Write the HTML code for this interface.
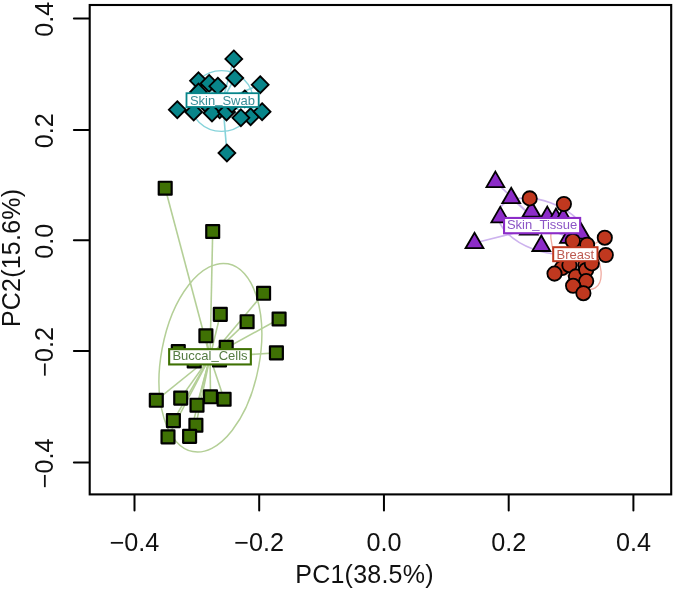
<!DOCTYPE html>
<html lang="en"><head><meta charset="utf-8"><title>PCA plot</title>
<style>html,body{margin:0;padding:0;background:#fff;}body{width:675px;height:590px;overflow:hidden;}</style>
</head><body>
<svg width="675" height="590" viewBox="0 0 675 590" style="display:block;will-change:transform;opacity:0.999">
<rect x="0" y="0" width="675" height="590" fill="#ffffff"/>
<ellipse cx="221.6" cy="101.0" rx="31.6" ry="30.4" fill="none" stroke="#86d3da" stroke-width="1.4" transform="rotate(0 221.6 101.0)"/>
<line x1="222.6" y1="100.3" x2="233.8" y2="58.9" stroke="#86d3da" stroke-width="1.6"/>
<line x1="222.6" y1="100.3" x2="234.8" y2="78" stroke="#86d3da" stroke-width="1.6"/>
<line x1="222.6" y1="100.3" x2="260.2" y2="84.7" stroke="#86d3da" stroke-width="1.6"/>
<line x1="222.6" y1="100.3" x2="198.5" y2="80.8" stroke="#86d3da" stroke-width="1.6"/>
<line x1="222.6" y1="100.3" x2="209.1" y2="83.4" stroke="#86d3da" stroke-width="1.6"/>
<line x1="222.6" y1="100.3" x2="217.8" y2="86.2" stroke="#86d3da" stroke-width="1.6"/>
<line x1="222.6" y1="100.3" x2="198.5" y2="92" stroke="#86d3da" stroke-width="1.6"/>
<line x1="222.6" y1="100.3" x2="244.8" y2="98.9" stroke="#86d3da" stroke-width="1.6"/>
<line x1="222.6" y1="100.3" x2="177.3" y2="109.7" stroke="#86d3da" stroke-width="1.6"/>
<line x1="222.6" y1="100.3" x2="193.7" y2="112" stroke="#86d3da" stroke-width="1.6"/>
<line x1="222.6" y1="100.3" x2="219.7" y2="109.8" stroke="#86d3da" stroke-width="1.6"/>
<line x1="222.6" y1="100.3" x2="212" y2="113" stroke="#86d3da" stroke-width="1.6"/>
<line x1="222.6" y1="100.3" x2="226.5" y2="112" stroke="#86d3da" stroke-width="1.6"/>
<line x1="222.6" y1="100.3" x2="250.6" y2="116.8" stroke="#86d3da" stroke-width="1.6"/>
<line x1="222.6" y1="100.3" x2="240.9" y2="117.8" stroke="#86d3da" stroke-width="1.6"/>
<line x1="222.6" y1="100.3" x2="262.1" y2="111.7" stroke="#86d3da" stroke-width="1.6"/>
<line x1="222.6" y1="100.3" x2="226.9" y2="153" stroke="#86d3da" stroke-width="1.6"/>
<line x1="222.6" y1="100.3" x2="205" y2="103" stroke="#86d3da" stroke-width="1.6"/>
<line x1="222.6" y1="100.3" x2="232" y2="104" stroke="#86d3da" stroke-width="1.6"/>
<ellipse cx="210.4" cy="357.7" rx="49.1" ry="95.5" fill="none" stroke="#b4cf97" stroke-width="1.5" transform="rotate(10.6 210.4 357.7)"/>
<line x1="210.0" y1="357.0" x2="165.2" y2="188.2" stroke="#b4cf97" stroke-width="1.6"/>
<line x1="210.0" y1="357.0" x2="212.7" y2="231.5" stroke="#b4cf97" stroke-width="1.6"/>
<line x1="210.0" y1="357.0" x2="263.6" y2="293.3" stroke="#b4cf97" stroke-width="1.6"/>
<line x1="210.0" y1="357.0" x2="220.3" y2="314.4" stroke="#b4cf97" stroke-width="1.6"/>
<line x1="210.0" y1="357.0" x2="247.1" y2="321.7" stroke="#b4cf97" stroke-width="1.6"/>
<line x1="210.0" y1="357.0" x2="279.1" y2="319" stroke="#b4cf97" stroke-width="1.6"/>
<line x1="210.0" y1="357.0" x2="205.9" y2="335.8" stroke="#b4cf97" stroke-width="1.6"/>
<line x1="210.0" y1="357.0" x2="226.2" y2="347.4" stroke="#b4cf97" stroke-width="1.6"/>
<line x1="210.0" y1="357.0" x2="276.4" y2="352.9" stroke="#b4cf97" stroke-width="1.6"/>
<line x1="210.0" y1="357.0" x2="178.3" y2="351.5" stroke="#b4cf97" stroke-width="1.6"/>
<line x1="210.0" y1="357.0" x2="194.2" y2="361" stroke="#b4cf97" stroke-width="1.6"/>
<line x1="210.0" y1="357.0" x2="219.5" y2="360" stroke="#b4cf97" stroke-width="1.6"/>
<line x1="210.0" y1="357.0" x2="156.3" y2="400.3" stroke="#b4cf97" stroke-width="1.6"/>
<line x1="210.0" y1="357.0" x2="180.7" y2="398.1" stroke="#b4cf97" stroke-width="1.6"/>
<line x1="210.0" y1="357.0" x2="197" y2="405.2" stroke="#b4cf97" stroke-width="1.6"/>
<line x1="210.0" y1="357.0" x2="210.5" y2="396.8" stroke="#b4cf97" stroke-width="1.6"/>
<line x1="210.0" y1="357.0" x2="224.1" y2="399.2" stroke="#b4cf97" stroke-width="1.6"/>
<line x1="210.0" y1="357.0" x2="173.4" y2="420.6" stroke="#b4cf97" stroke-width="1.6"/>
<line x1="210.0" y1="357.0" x2="195.9" y2="425.2" stroke="#b4cf97" stroke-width="1.6"/>
<line x1="210.0" y1="357.0" x2="168" y2="436.9" stroke="#b4cf97" stroke-width="1.6"/>
<line x1="210.0" y1="357.0" x2="189.6" y2="436.4" stroke="#b4cf97" stroke-width="1.6"/>
<ellipse cx="542" cy="226" rx="45.75" ry="24.8" fill="none" stroke="#cdb3ee" stroke-width="1.6" transform="rotate(19.9 542 226)"/>
<line x1="542" y1="226" x2="495.4" y2="181.89999999999998" stroke="#cdb3ee" stroke-width="1.6"/>
<line x1="542" y1="226" x2="511.2" y2="198.0" stroke="#cdb3ee" stroke-width="1.6"/>
<line x1="542" y1="226" x2="500.3" y2="217.2" stroke="#cdb3ee" stroke-width="1.6"/>
<line x1="542" y1="226" x2="474.5" y2="243.0" stroke="#cdb3ee" stroke-width="1.6"/>
<line x1="542" y1="226" x2="541.3" y2="245.79999999999998" stroke="#cdb3ee" stroke-width="1.6"/>
<line x1="542" y1="226" x2="531.5" y2="211.5" stroke="#cdb3ee" stroke-width="1.6"/>
<line x1="542" y1="226" x2="547.3" y2="216.89999999999998" stroke="#cdb3ee" stroke-width="1.6"/>
<line x1="542" y1="226" x2="556" y2="218.89999999999998" stroke="#cdb3ee" stroke-width="1.6"/>
<line x1="542" y1="226" x2="563.3" y2="218.2" stroke="#cdb3ee" stroke-width="1.6"/>
<line x1="542" y1="226" x2="581" y2="233.5" stroke="#cdb3ee" stroke-width="1.6"/>
<line x1="542" y1="226" x2="569" y2="237.7" stroke="#cdb3ee" stroke-width="1.6"/>
<line x1="542" y1="226" x2="528.8" y2="229.5" stroke="#cdb3ee" stroke-width="1.6"/>
<ellipse cx="576" cy="255" rx="38.1" ry="18.8" fill="none" stroke="#f0aaa0" stroke-width="1.3" transform="rotate(59.7 576 255)"/>
<line x1="576" y1="255" x2="563.9" y2="204" stroke="#f0aaa0" stroke-width="1.3"/>
<line x1="576" y1="255" x2="604.8" y2="237.7" stroke="#f0aaa0" stroke-width="1.3"/>
<line x1="576" y1="255" x2="605.8" y2="255" stroke="#f0aaa0" stroke-width="1.3"/>
<line x1="576" y1="255" x2="572.8" y2="241" stroke="#f0aaa0" stroke-width="1.3"/>
<line x1="576" y1="255" x2="587.1" y2="244.7" stroke="#f0aaa0" stroke-width="1.3"/>
<line x1="576" y1="255" x2="562" y2="268" stroke="#f0aaa0" stroke-width="1.3"/>
<line x1="576" y1="255" x2="554.5" y2="273.6" stroke="#f0aaa0" stroke-width="1.3"/>
<line x1="576" y1="255" x2="569.4" y2="265.2" stroke="#f0aaa0" stroke-width="1.3"/>
<line x1="576" y1="255" x2="585.3" y2="265.2" stroke="#f0aaa0" stroke-width="1.3"/>
<line x1="576" y1="255" x2="575.9" y2="276.4" stroke="#f0aaa0" stroke-width="1.3"/>
<line x1="576" y1="255" x2="586.2" y2="270" stroke="#f0aaa0" stroke-width="1.3"/>
<line x1="576" y1="255" x2="586.2" y2="281.1" stroke="#f0aaa0" stroke-width="1.3"/>
<line x1="576" y1="255" x2="573.1" y2="285.8" stroke="#f0aaa0" stroke-width="1.3"/>
<line x1="576" y1="255" x2="583.4" y2="293.2" stroke="#f0aaa0" stroke-width="1.3"/>
<line x1="576" y1="255" x2="591.8" y2="263.4" stroke="#f0aaa0" stroke-width="1.3"/>
<path d="M233.8 50.45L242.25 58.9L233.8 67.35L225.35000000000002 58.9Z" fill="#08858a" stroke="#000" stroke-width="1.8" stroke-linejoin="miter"/>
<path d="M234.8 69.55L243.25 78L234.8 86.45L226.35000000000002 78Z" fill="#08858a" stroke="#000" stroke-width="1.8" stroke-linejoin="miter"/>
<path d="M260.2 76.25L268.65 84.7L260.2 93.15L251.75 84.7Z" fill="#08858a" stroke="#000" stroke-width="1.8" stroke-linejoin="miter"/>
<path d="M198.5 72.35L206.95 80.8L198.5 89.25L190.05 80.8Z" fill="#08858a" stroke="#000" stroke-width="1.8" stroke-linejoin="miter"/>
<path d="M209.1 74.95L217.54999999999998 83.4L209.1 91.85000000000001L200.65 83.4Z" fill="#08858a" stroke="#000" stroke-width="1.8" stroke-linejoin="miter"/>
<path d="M217.8 77.75L226.25 86.2L217.8 94.65L209.35000000000002 86.2Z" fill="#08858a" stroke="#000" stroke-width="1.8" stroke-linejoin="miter"/>
<path d="M198.5 83.55L206.95 92L198.5 100.45L190.05 92Z" fill="#08858a" stroke="#000" stroke-width="1.8" stroke-linejoin="miter"/>
<path d="M244.8 90.45L253.25 98.9L244.8 107.35000000000001L236.35000000000002 98.9Z" fill="#08858a" stroke="#000" stroke-width="1.8" stroke-linejoin="miter"/>
<path d="M177.3 101.25L185.75 109.7L177.3 118.15L168.85000000000002 109.7Z" fill="#08858a" stroke="#000" stroke-width="1.8" stroke-linejoin="miter"/>
<path d="M193.7 103.55L202.14999999999998 112L193.7 120.45L185.25 112Z" fill="#08858a" stroke="#000" stroke-width="1.8" stroke-linejoin="miter"/>
<path d="M219.7 101.35L228.14999999999998 109.8L219.7 118.25L211.25 109.8Z" fill="#08858a" stroke="#000" stroke-width="1.8" stroke-linejoin="miter"/>
<path d="M212 104.55L220.45 113L212 121.45L203.55 113Z" fill="#08858a" stroke="#000" stroke-width="1.8" stroke-linejoin="miter"/>
<path d="M226.5 103.55L234.95 112L226.5 120.45L218.05 112Z" fill="#08858a" stroke="#000" stroke-width="1.8" stroke-linejoin="miter"/>
<path d="M250.6 108.35L259.05 116.8L250.6 125.25L242.15 116.8Z" fill="#08858a" stroke="#000" stroke-width="1.8" stroke-linejoin="miter"/>
<path d="M240.9 109.35L249.35 117.8L240.9 126.25L232.45000000000002 117.8Z" fill="#08858a" stroke="#000" stroke-width="1.8" stroke-linejoin="miter"/>
<path d="M262.1 103.25L270.55 111.7L262.1 120.15L253.65000000000003 111.7Z" fill="#08858a" stroke="#000" stroke-width="1.8" stroke-linejoin="miter"/>
<path d="M226.9 144.55L235.35 153L226.9 161.45L218.45000000000002 153Z" fill="#08858a" stroke="#000" stroke-width="1.8" stroke-linejoin="miter"/>
<path d="M205 94.55L213.45 103L205 111.45L196.55 103Z" fill="#08858a" stroke="#000" stroke-width="1.8" stroke-linejoin="miter"/>
<path d="M232 95.55L240.45 104L232 112.45L223.55 104Z" fill="#08858a" stroke="#000" stroke-width="1.8" stroke-linejoin="miter"/>
<rect x="158.75" y="181.75" width="12.9" height="12.9" fill="#3f7104" stroke="#000" stroke-width="2.2" stroke-linejoin="round"/>
<rect x="206.25" y="225.05" width="12.9" height="12.9" fill="#3f7104" stroke="#000" stroke-width="2.2" stroke-linejoin="round"/>
<rect x="257.15" y="286.85" width="12.9" height="12.9" fill="#3f7104" stroke="#000" stroke-width="2.2" stroke-linejoin="round"/>
<rect x="213.85" y="307.95" width="12.9" height="12.9" fill="#3f7104" stroke="#000" stroke-width="2.2" stroke-linejoin="round"/>
<rect x="240.65" y="315.25" width="12.9" height="12.9" fill="#3f7104" stroke="#000" stroke-width="2.2" stroke-linejoin="round"/>
<rect x="272.65" y="312.55" width="12.9" height="12.9" fill="#3f7104" stroke="#000" stroke-width="2.2" stroke-linejoin="round"/>
<rect x="199.45" y="329.35" width="12.9" height="12.9" fill="#3f7104" stroke="#000" stroke-width="2.2" stroke-linejoin="round"/>
<rect x="219.75" y="340.95" width="12.9" height="12.9" fill="#3f7104" stroke="#000" stroke-width="2.2" stroke-linejoin="round"/>
<rect x="269.95" y="346.45" width="12.9" height="12.9" fill="#3f7104" stroke="#000" stroke-width="2.2" stroke-linejoin="round"/>
<rect x="171.85" y="345.05" width="12.9" height="12.9" fill="#3f7104" stroke="#000" stroke-width="2.2" stroke-linejoin="round"/>
<rect x="187.75" y="354.55" width="12.9" height="12.9" fill="#3f7104" stroke="#000" stroke-width="2.2" stroke-linejoin="round"/>
<rect x="213.05" y="353.55" width="12.9" height="12.9" fill="#3f7104" stroke="#000" stroke-width="2.2" stroke-linejoin="round"/>
<rect x="149.85" y="393.85" width="12.9" height="12.9" fill="#3f7104" stroke="#000" stroke-width="2.2" stroke-linejoin="round"/>
<rect x="174.25" y="391.65" width="12.9" height="12.9" fill="#3f7104" stroke="#000" stroke-width="2.2" stroke-linejoin="round"/>
<rect x="190.55" y="398.75" width="12.9" height="12.9" fill="#3f7104" stroke="#000" stroke-width="2.2" stroke-linejoin="round"/>
<rect x="204.05" y="390.35" width="12.9" height="12.9" fill="#3f7104" stroke="#000" stroke-width="2.2" stroke-linejoin="round"/>
<rect x="217.65" y="392.75" width="12.9" height="12.9" fill="#3f7104" stroke="#000" stroke-width="2.2" stroke-linejoin="round"/>
<rect x="166.95" y="414.15" width="12.9" height="12.9" fill="#3f7104" stroke="#000" stroke-width="2.2" stroke-linejoin="round"/>
<rect x="189.45" y="418.75" width="12.9" height="12.9" fill="#3f7104" stroke="#000" stroke-width="2.2" stroke-linejoin="round"/>
<rect x="161.55" y="430.45" width="12.9" height="12.9" fill="#3f7104" stroke="#000" stroke-width="2.2" stroke-linejoin="round"/>
<rect x="183.15" y="429.95" width="12.9" height="12.9" fill="#3f7104" stroke="#000" stroke-width="2.2" stroke-linejoin="round"/>
<path d="M495.4 171.60L504.34999999999997 187.10L486.45 187.10Z" fill="#8c2cc8" stroke="#000" stroke-width="1.8" stroke-linejoin="miter"/>
<path d="M511.2 187.70L520.15 203.20L502.25 203.20Z" fill="#8c2cc8" stroke="#000" stroke-width="1.8" stroke-linejoin="miter"/>
<path d="M500.3 206.90L509.25 222.40L491.35 222.40Z" fill="#8c2cc8" stroke="#000" stroke-width="1.8" stroke-linejoin="miter"/>
<path d="M474.5 232.70L483.45 248.20L465.55 248.20Z" fill="#8c2cc8" stroke="#000" stroke-width="1.8" stroke-linejoin="miter"/>
<path d="M541.3 235.50L550.25 251.00L532.3499999999999 251.00Z" fill="#8c2cc8" stroke="#000" stroke-width="1.8" stroke-linejoin="miter"/>
<path d="M531.5 201.20L540.45 216.70L522.55 216.70Z" fill="#8c2cc8" stroke="#000" stroke-width="1.8" stroke-linejoin="miter"/>
<path d="M547.3 206.60L556.25 222.10L538.3499999999999 222.10Z" fill="#8c2cc8" stroke="#000" stroke-width="1.8" stroke-linejoin="miter"/>
<path d="M556 208.60L564.95 224.10L547.05 224.10Z" fill="#8c2cc8" stroke="#000" stroke-width="1.8" stroke-linejoin="miter"/>
<path d="M563.3 207.90L572.25 223.40L554.3499999999999 223.40Z" fill="#8c2cc8" stroke="#000" stroke-width="1.8" stroke-linejoin="miter"/>
<path d="M581 223.20L589.95 238.70L572.05 238.70Z" fill="#8c2cc8" stroke="#000" stroke-width="1.8" stroke-linejoin="miter"/>
<path d="M569 227.40L577.95 242.90L560.05 242.90Z" fill="#8c2cc8" stroke="#000" stroke-width="1.8" stroke-linejoin="miter"/>
<path d="M528.8 219.20L537.75 234.70L519.8499999999999 234.70Z" fill="#8c2cc8" stroke="#000" stroke-width="1.8" stroke-linejoin="miter"/>
<circle cx="529.7" cy="198.4" r="7.15" fill="#c0381f" stroke="#000" stroke-width="1.8"/>
<circle cx="563.9" cy="204" r="7.15" fill="#c0381f" stroke="#000" stroke-width="1.8"/>
<circle cx="604.8" cy="237.7" r="7.15" fill="#c0381f" stroke="#000" stroke-width="1.8"/>
<circle cx="605.8" cy="255" r="7.15" fill="#c0381f" stroke="#000" stroke-width="1.8"/>
<circle cx="572.8" cy="241" r="7.15" fill="#c0381f" stroke="#000" stroke-width="1.8"/>
<circle cx="587.1" cy="244.7" r="7.15" fill="#c0381f" stroke="#000" stroke-width="1.8"/>
<circle cx="562" cy="268" r="7.15" fill="#c0381f" stroke="#000" stroke-width="1.8"/>
<circle cx="554.5" cy="273.6" r="7.15" fill="#c0381f" stroke="#000" stroke-width="1.8"/>
<circle cx="569.4" cy="265.2" r="7.15" fill="#c0381f" stroke="#000" stroke-width="1.8"/>
<circle cx="585.3" cy="265.2" r="7.15" fill="#c0381f" stroke="#000" stroke-width="1.8"/>
<circle cx="575.9" cy="276.4" r="7.15" fill="#c0381f" stroke="#000" stroke-width="1.8"/>
<circle cx="586.2" cy="270" r="7.15" fill="#c0381f" stroke="#000" stroke-width="1.8"/>
<circle cx="586.2" cy="281.1" r="7.15" fill="#c0381f" stroke="#000" stroke-width="1.8"/>
<circle cx="573.1" cy="285.8" r="7.15" fill="#c0381f" stroke="#000" stroke-width="1.8"/>
<circle cx="583.4" cy="293.2" r="7.15" fill="#c0381f" stroke="#000" stroke-width="1.8"/>
<circle cx="591.8" cy="263.4" r="7.15" fill="#c0381f" stroke="#000" stroke-width="1.8"/>
<g aria-label="Skin_Swab"><title>Skin_Swab</title>
<rect x="186.50" y="93.20" width="72.20" height="13.80" fill="#fff" stroke="#08858a" stroke-width="1.8"/>
<text x="222.45" y="104.7" font-family='"Liberation Sans", Arial, Helvetica, sans-serif' font-size="13" text-anchor="middle" fill="#3a8f98">Skin<tspan dy="-1.6">_</tspan><tspan dy="1.6">Swab</tspan></text></g>
<g aria-label="Buccal_Cells"><title>Buccal_Cells</title>
<rect x="169.15" y="349.15" width="81.70" height="15.30" fill="#fff" stroke="#3f7104" stroke-width="2.1"/>
<text x="210" y="360.4" font-family='"Liberation Sans", Arial, Helvetica, sans-serif' font-size="13" text-anchor="middle" fill="#557c42">Buccal<tspan dy="-1">_</tspan><tspan dy="1">Cells</tspan></text></g>
<g aria-label="Skin_Tissue"><title>Skin_Tissue</title>
<rect x="504.05" y="217.95" width="76.10" height="15.30" fill="#fff" stroke="#8c2cc8" stroke-width="2.1"/>
<text x="542.1" y="229.4" font-family='"Liberation Sans", Arial, Helvetica, sans-serif' font-size="13" text-anchor="middle" fill="#8c55c6">Skin<tspan dy="-1">_</tspan><tspan dy="1">Tissue</tspan></text></g>
<g aria-label="Breast"><title>Breast</title>
<rect x="553.20" y="247.20" width="44.30" height="14.00" fill="#fff" stroke="#c0381f" stroke-width="2.0"/>
<text x="575.35" y="258.6" font-family='"Liberation Sans", Arial, Helvetica, sans-serif' font-size="13" text-anchor="middle" fill="#bd5a50">Breast</text></g>
<rect x="89.7" y="5.0" width="581.5" height="489.4" fill="none" stroke="#000" stroke-width="2.1"/>
<line x1="134.5" y1="495.4" x2="134.5" y2="510.6" stroke="#000" stroke-width="2.0" stroke-linecap="round"/>
<text x="134.5" y="550.7" font-family='"Liberation Sans", Arial, Helvetica, sans-serif' font-size="25.2" text-anchor="middle" fill="#111">−0.4</text>
<line x1="259.2" y1="495.4" x2="259.2" y2="510.6" stroke="#000" stroke-width="2.0" stroke-linecap="round"/>
<text x="259.2" y="550.7" font-family='"Liberation Sans", Arial, Helvetica, sans-serif' font-size="25.2" text-anchor="middle" fill="#111">−0.2</text>
<line x1="383.95" y1="495.4" x2="383.95" y2="510.6" stroke="#000" stroke-width="2.0" stroke-linecap="round"/>
<text x="383.95" y="550.7" font-family='"Liberation Sans", Arial, Helvetica, sans-serif' font-size="25.2" text-anchor="middle" fill="#111">0.0</text>
<line x1="508.7" y1="495.4" x2="508.7" y2="510.6" stroke="#000" stroke-width="2.0" stroke-linecap="round"/>
<text x="508.7" y="550.7" font-family='"Liberation Sans", Arial, Helvetica, sans-serif' font-size="25.2" text-anchor="middle" fill="#111">0.2</text>
<line x1="633.4" y1="495.4" x2="633.4" y2="510.6" stroke="#000" stroke-width="2.0" stroke-linecap="round"/>
<text x="633.4" y="550.7" font-family='"Liberation Sans", Arial, Helvetica, sans-serif' font-size="25.2" text-anchor="middle" fill="#111">0.4</text>
<line x1="73.9" y1="462.5" x2="88.7" y2="462.5" stroke="#000" stroke-width="2.0" stroke-linecap="round"/>
<text transform="translate(52.9 463.4) rotate(-90)" font-family='"Liberation Sans", Arial, Helvetica, sans-serif' font-size="25.2" text-anchor="middle" fill="#111">−0.4</text>
<line x1="73.9" y1="350.9" x2="88.7" y2="350.9" stroke="#000" stroke-width="2.0" stroke-linecap="round"/>
<text transform="translate(52.9 351.79999999999995) rotate(-90)" font-family='"Liberation Sans", Arial, Helvetica, sans-serif' font-size="25.2" text-anchor="middle" fill="#111">−0.2</text>
<line x1="73.9" y1="240.3" x2="88.7" y2="240.3" stroke="#000" stroke-width="2.0" stroke-linecap="round"/>
<text transform="translate(52.9 241.20000000000002) rotate(-90)" font-family='"Liberation Sans", Arial, Helvetica, sans-serif' font-size="25.2" text-anchor="middle" fill="#111">0.0</text>
<line x1="73.9" y1="129.9" x2="88.7" y2="129.9" stroke="#000" stroke-width="2.0" stroke-linecap="round"/>
<text transform="translate(52.9 130.8) rotate(-90)" font-family='"Liberation Sans", Arial, Helvetica, sans-serif' font-size="25.2" text-anchor="middle" fill="#111">0.2</text>
<line x1="73.9" y1="18.4" x2="88.7" y2="18.4" stroke="#000" stroke-width="2.0" stroke-linecap="round"/>
<text transform="translate(52.9 19.299999999999997) rotate(-90)" font-family='"Liberation Sans", Arial, Helvetica, sans-serif' font-size="25.2" text-anchor="middle" fill="#111">0.4</text>
<text x="364.5" y="582.5" font-family='"Liberation Sans", Arial, Helvetica, sans-serif' font-size="25" letter-spacing="0.22" text-anchor="middle" fill="#111">PC1(38.5%)</text>
<text transform="translate(20.4 257.9) rotate(-90)" font-family='"Liberation Sans", Arial, Helvetica, sans-serif' font-size="25" letter-spacing="0.22" text-anchor="middle" fill="#111">PC2(15.6%)</text>
</svg>
</body></html>
